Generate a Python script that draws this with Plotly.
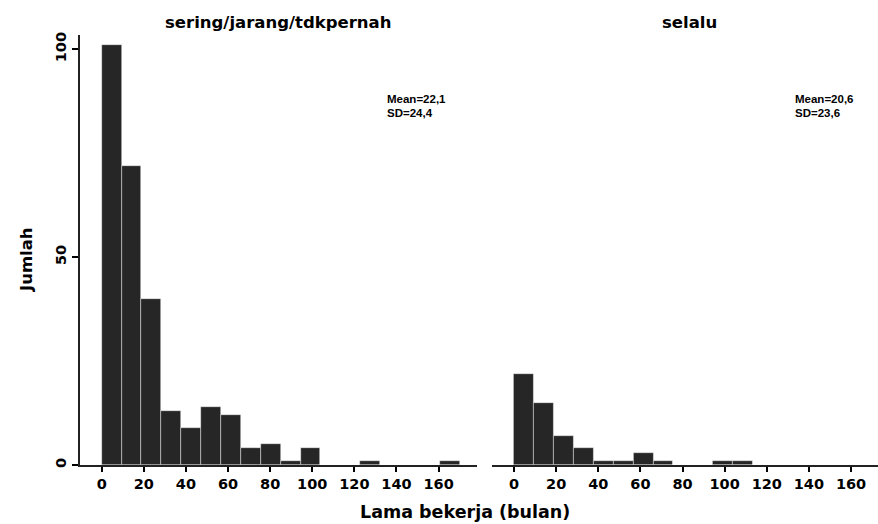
import numpy as np
import plotly.graph_objects as go

# ---- data ----
bin_start = 0.0
bin_width = 170.0 / 18
counts_sering = [101, 72, 40, 13, 9, 14, 12, 4, 5, 1, 4, 0, 0, 1, 0, 0, 0, 1]
counts_selalu = [22, 15, 7, 4, 1, 1, 3, 1, 0, 0, 1, 1, 0, 0, 0, 0, 0, 0]
panel_titles = ["sering/jarang/tdkpernah", "selalu"]
stats_text = [("Mean=22,1", "SD=24,4"), ("Mean=20,6", "SD=23,6")]
x_ticks = [0, 20, 40, 60, 80, 100, 120, 140, 160]
y_ticks = [0, 50, 100]

centers = bin_start + bin_width * (np.arange(18) + 0.5)

BAR = "#262626"
FONT = "DejaVu Sans"

fig = go.Figure()
for cnts, xa, ya in [(counts_sering, "x", "y"), (counts_selalu, "x2", "y2")]:
    fig.add_trace(go.Bar(
        x=centers, y=cnts, width=bin_width, xaxis=xa, yaxis=ya,
        marker=dict(color=BAR, line=dict(color="rgba(255,255,255,0.7)", width=0.6)),
        showlegend=False, hoverinfo="x+y",
    ))

L, W, T, H = 80, 798, 35, 430
def px(x):
    return (x - L) / W
def py(y):
    return (T + H - y) / H

xcommon = dict(
    tickmode="array", tickvals=x_ticks, ticks="outside", ticklen=5, tickwidth=1.5,
    tickcolor="black", showline=True, linecolor="#222", linewidth=2,
    showgrid=False, zeroline=False,
    tickfont=dict(family=FONT, size=14.5, color="black", weight="bold"),
)
fig.update_layout(
    width=878, height=524,
    margin=dict(l=L, r=0, t=T, b=524 - T - H),
    paper_bgcolor="white", plot_bgcolor="white",
    bargap=0,
    xaxis=dict(domain=[0, px(476.7)], range=[-10.3, 178.1], anchor="y", **xcommon),
    xaxis2=dict(domain=[px(491.7), 1], range=[-10.6, 172.8], anchor="y2", **xcommon),
    yaxis=dict(domain=[0, 1], range=[0, H / 4.157], anchor="x",
               tickmode="array", tickvals=y_ticks, ticks="outside", ticklen=6,
               tickwidth=1.5, tickcolor="black", tickangle=-90,
               showline=True, linecolor="#222", linewidth=1.5,
               showgrid=False, zeroline=False,
               tickfont=dict(family=FONT, size=14.5, color="black", weight="bold")),
    yaxis2=dict(domain=[0, 1], range=[0, H / 4.157], anchor="x2",
                showticklabels=False, ticks="", showline=False,
                showgrid=False, zeroline=False),
)

ann = []
ann.append(dict(text=panel_titles[0], x=px(277.5), y=py(22), xref="paper", yref="paper",
                showarrow=False, xanchor="center", yanchor="middle",
                font=dict(family=FONT, size=16.5, color="black", weight="bold")))
ann.append(dict(text=panel_titles[1], x=px(689), y=py(22), xref="paper", yref="paper",
                showarrow=False, xanchor="center", yanchor="middle",
                font=dict(family=FONT, size=16.5, color="black", weight="bold")))
for (m, s), xl in zip(stats_text, [385, 793.3]):
    ann.append(dict(text=m, x=px(xl), y=py(99), xref="paper", yref="paper",
                    showarrow=False, xanchor="left", yanchor="middle",
                    font=dict(family="Liberation Sans", size=11.5, color="black", weight="bold")))
    ann.append(dict(text=s, x=px(xl), y=py(113), xref="paper", yref="paper",
                    showarrow=False, xanchor="left", yanchor="middle",
                    font=dict(family="Liberation Sans", size=11.5, color="black", weight="bold")))
ann.append(dict(text="Lama bekerja (bulan)", x=px(465), y=py(512), xref="paper", yref="paper",
                showarrow=False, xanchor="center", yanchor="middle",
                font=dict(family=FONT, size=17.5, color="black", weight="bold")))
ann.append(dict(text="Jumlah", x=px(26), y=py(260), xref="paper", yref="paper",
                showarrow=False, xanchor="center", yanchor="middle", textangle=-90,
                font=dict(family=FONT, size=16.5, color="black", weight="bold")))
fig.update_layout(annotations=ann)

fig.write_html("out.html")
